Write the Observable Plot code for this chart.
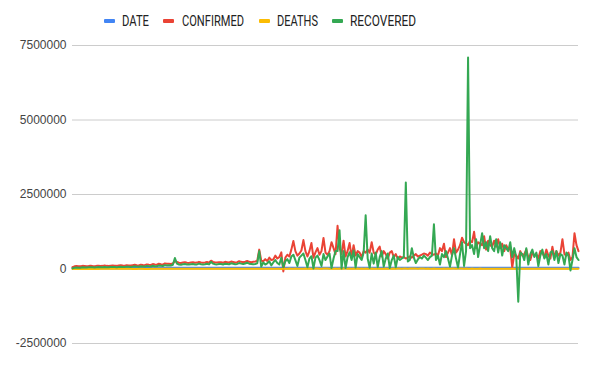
<!DOCTYPE html>
<html>
<head>
<meta charset="utf-8">
<script src="https://cdn.jsdelivr.net/npm/d3@7"></script>
<script src="https://cdn.jsdelivr.net/npm/@observablehq/plot@0.6"></script>
<style>
  html, body { margin: 0; padding: 0; background: #fff; }
  #chart { width: 596px; height: 368px; }
  svg { display: block; }
</style>
</head>
<body>
<div id="chart"></div>
<script>
// Series names and colours
const seriesNames = ["DATE", "CONFIRMED", "DEATHS", "RECOVERED"];
const seriesColors = ["#4285F4", "#EA4335", "#FBBC04", "#34A853"];

// Y axis tick labels
const yTicks = [-2500000, 0, 2500000, 5000000, 7500000];

// DATE series (spreadsheet serial numbers)
const dates = [
  43852,43854,43856,43858,43860,43862,43864,43866,43868,43870,
  43872,43874,43876,43878,43880,43882,43884,43886,43888,43890,
  43892,43894,43896,43898,43900,43902,43904,43906,43908,43910,
  43912,43914,43916,43918,43920,43922,43924,43926,43928,43930,
  43932,43934,43936,43938,43940,43942,43944,43946,43948,43950,
  43952,43954,43956,43958,43960,43962,43964,43966,43968,43970,
  43972,43974,43976,43978,43980,43982,43984,43986,43988,43990,
  43992,43994,43996,43998,44000,44002,44004,44006,44008,44010,
  44012,44014,44016,44018,44020,44022,44024,44026,44028,44030,
  44032,44034,44036,44038,44040,44042,44044,44046,44048,44050,
  44052,44054,44056,44058,44060,44062,44064,44066,44068,44070,
  44072,44074,44076,44078,44080,44082,44084,44086,44088,44090,
  44092,44094,44096,44098,44100,44102,44104,44106,44108,44110,
  44112,44114,44116,44118,44120,44122,44124,44126,44128,44130,
  44132,44134,44136,44138,44140,44142,44144,44146,44148,44150,
  44152,44154,44156,44158,44160,44162,44164,44166,44168,44170,
  44172,44174,44176,44178,44180,44182,44184,44186,44188,44190,
  44192,44194,44196,44198,44200,44202,44204,44206,44208,44210,
  44212,44214,44216,44218,44220,44222,44224,44226,44228,44230,
  44232,44234,44236,44238,44240,44242,44244,44246,44248,44250,
  44252,44254,44256,44258,44260,44262,44264,44266,44268,44270,
  44272,44274,44276,44278,44280,44282,44284,44286,44288,44290,
  44292,44294,44296,44298,44300,44302,44304,44306,44308,44310,
  44312,44314,44316,44318,44320,44322,44324,44326,44328,44330,
  44332,44334,44336,44338,44340,44342,44344,44346,44348,44350,
  44352,44354,44356
];

// Values below are in thousands
const UNIT = 1000;

const confirmed = [
  60,90,100,95,90,105,100,95,100,110,
  100,95,105,110,100,105,115,105,100,110,
  120,110,105,120,125,115,110,130,120,115,
  130,140,125,120,145,135,130,155,140,135,
  165,150,145,175,160,150,185,175,180,170,
  190,260,240,210,200,215,230,210,205,220,
  225,210,215,240,220,210,220,235,215,280,
  240,220,215,230,225,210,240,230,220,250,
  235,220,230,260,240,225,245,270,240,230,
  240,250,270,650,280,260,330,270,380,300,
  320,450,350,400,560,-80,380,480,420,650,
  940,600,450,520,620,970,600,420,600,870,
  380,560,700,480,600,1040,550,480,600,900,
  700,500,1450,700,500,950,420,600,870,400,
  800,450,600,550,400,600,550,650,550,900,
  550,480,650,750,420,600,500,350,550,600,
  400,500,350,420,380,400,350,380,420,380,
  450,500,420,450,480,520,500,450,550,500,
  480,520,450,700,600,850,400,550,700,450,
  1000,550,650,800,1050,900,850,800,950,900,
  1250,700,900,850,800,1100,650,950,800,750,
  950,750,1000,700,850,600,800,650,700,50,
  500,450,350,600,450,500,650,400,300,550,
  450,500,350,600,550,400,650,450,350,750,
  400,600,450,550,1000,500,450,550,300,400,
  1200,800,600
];

const deaths = [
  0,0,0,0,0,1,1,1,2,2,
  3,3,4,4,5,5,6,6,6,7,
  7,7,6,6,6,5,5,5,5,5,
  4,4,4,5,5,5,4,4,4,5,
  5,5,5,5,5,6,6,6,5,6,
  6,5,6,6,5,6,6,6,7,6,
  6,5,6,6,6,5,6,5,6,7,
  6,6,7,6,7,8,7,7,8,7,
  8,8,7,8,9,8,8,9,8,9,
  9,8,10,9,11,10,11,12,10,12,
  11,10,12,11,-3,12,11,12,13,10,
  12,13,11,12,10,12,14,11,13,10,
  12,14,13,11,12,14,15,13,11,14,
  12,13,11,14,12,15,13,11,14,12,
  13,11,14,12,13,10,13,11,12,14,
  11,12,13,11,12,12,13,11,14,12,
  13,11,14,15,12,14,13,12,15,14,
  13,14,12,15,13,14,12,13,12,11,
  13,10,12,11,12,13,11,14,12,13,
  14,12,15,13,14,12,13,12,11,13,
  12,10,11,13,9,12,10,11,9,12,
  10,11,9,11,8,10,9,11,8,10,
  9,10,8,11,9,10,8,10,9,11,
  8,10,9,10,8,9,10,8,9,10,
  9,8,10,9,8,9,10,8,9,8,
  9,8,9
];

const recovered = [
  20,40,50,45,45,55,50,50,55,60,
  55,50,60,65,55,60,70,60,55,65,
  70,65,60,70,75,70,65,80,75,70,
  80,90,80,75,95,85,80,100,90,85,
  110,95,90,120,110,100,130,120,125,120,
  140,370,180,150,145,160,170,150,150,160,
  165,150,155,180,160,150,160,175,155,240,
  180,160,155,170,165,150,180,170,160,190,
  175,160,170,200,180,165,185,210,180,170,
  160,170,190,600,80,220,150,190,260,120,
  220,300,200,150,380,60,260,330,200,420,
  480,300,100,380,450,520,300,60,350,430,
  20,380,450,300,100,500,300,420,520,30,
  350,600,600,1300,20,600,30,400,560,300,
  620,50,500,400,300,550,1800,350,40,520,
  180,550,60,400,600,80,350,520,30,300,
  450,60,400,300,350,400,2900,250,300,700,
  380,200,320,400,350,450,380,300,400,450,
  1500,300,450,150,500,400,600,350,80,450,
  700,350,50,500,900,100,600,7100,700,800,
  500,1000,400,800,1200,700,900,600,1100,700,
  600,1000,550,900,450,800,700,600,900,400,
  700,400,-1100,550,500,300,700,150,500,650,
  400,550,100,450,650,350,500,150,550,600,
  300,600,200,500,450,150,550,450,-50,300,
  700,400,300
];

const seriesValues = [
  dates,
  confirmed.map(v => v * UNIT),
  deaths.map(v => v * UNIT),
  recovered.map(v => v * UNIT)
];

const N = dates.length;

// Legend
const legend = d3.create("svg").attr("width", 596).attr("height", 34);
const swatchX = [104, 163, 259, 332];
const textX = [122, 182, 277, 350];
const textW = [27, 62, 41, 66];
seriesNames.forEach((name, k) => {
  legend.append("rect").attr("x", swatchX[k]).attr("y", 19).attr("width", 11).attr("height", 4)
    .attr("rx", 1).attr("fill", seriesColors[k]);
  legend.append("text").attr("x", textX[k]).attr("y", 26)
    .attr("font-family", "Roboto, Arial, sans-serif").attr("font-size", 14)
    .attr("fill", "#222")
    .attr("textLength", textW[k]).attr("lengthAdjust", "spacingAndGlyphs")
    .text(name);
});

const lineMarks = seriesNames.map((name, k) =>
  Plot.lineY(seriesValues[k], {
    x: (d, i) => i,
    y: d => d,
    stroke: seriesColors[k],
    strokeWidth: 2,
    strokeLinejoin: "round"
  })
);

const chart = Plot.plot({
  width: 596,
  height: 334,
  marginLeft: 72,
  marginRight: 18,
  marginTop: 11,
  marginBottom: 25,
  style: { fontFamily: "Arial, 'Liberation Sans', sans-serif", fontSize: "12px", color: "#444", background: "#fff" },
  x: { domain: [0, N - 1], axis: null },
  y: { domain: [-2500000, 7500000], axis: null },
  marks: [
    Plot.ruleY(yTicks, { stroke: "#ccc", strokeWidth: 1 }),
    Plot.ruleY([0], { stroke: "#999", strokeWidth: 1 }),
    Plot.axisY(yTicks, { tickSize: 0, tickPadding: 6, tickFormat: d => String(d), label: null, fill: "#444" }),
    ...lineMarks
  ]
});

const container = document.getElementById("chart");
container.appendChild(legend.node());
container.appendChild(chart);
</script>
</body>
</html>
